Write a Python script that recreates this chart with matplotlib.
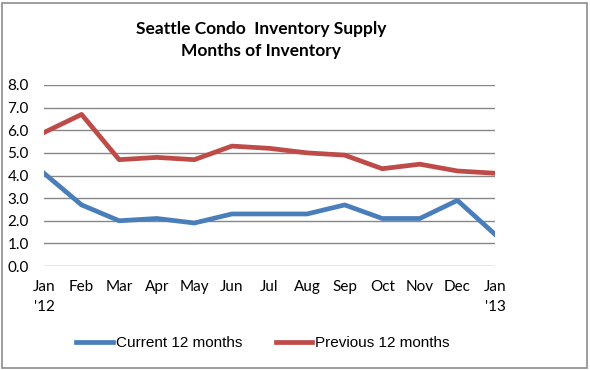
import matplotlib.pyplot as plt
from matplotlib.patches import Rectangle

months = ["Jan\n'12", "Feb", "Mar", "Apr", "May", "Jun", "Jul", "Aug",
          "Sep", "Oct", "Nov", "Dec", "Jan\n'13"]
current = [4.1, 2.7, 2.0, 2.1, 1.9, 2.3, 2.3, 2.3, 2.7, 2.1, 2.1, 2.9, 1.4]
previous = [5.9, 6.7, 4.7, 4.8, 4.7, 5.3, 5.2, 5.0, 4.9, 4.3, 4.5, 4.2, 4.1]
yticks = [0, 1, 2, 3, 4, 5, 6, 7, 8]

fig = plt.figure(figsize=(5.9, 3.7), dpi=100)
ax = fig.add_axes([44 / 590, 1 - 266 / 370, (495 - 44) / 590, (266 - 85) / 370])

x = list(range(len(months)))
ax.plot(x, current, color="#4A7EBB", lw=3.4, label="Current 12 months",
        solid_joinstyle="round")
ax.plot(x, previous, color="#BE4B48", lw=3.4, label="Previous 12 months",
        solid_joinstyle="round")

ax.set_xlim(0, 12)
ax.set_ylim(0, 8)
ax.set_yticks(yticks)
ax.set_yticklabels([f"{v:.1f}" for v in yticks], family="Lato", fontsize=11)
ax.set_xticks(x)
ax.set_xticklabels(months, family="Lato", fontsize=11, linespacing=1.55)
ax.tick_params(length=0)
ax.tick_params(axis="x", pad=10)
ax.tick_params(axis="y", pad=11)
ax.grid(axis="y", color="#878787", lw=1)
ax.set_axisbelow(True)
for s in ax.spines.values():
    s.set_visible(False)

fig.text(261 / 590, 1 - 40 / 370, "Seattle Condo  Inventory Supply\nMonths of Inventory",
         ha="center", va="center", fontsize=12.5, fontweight="bold",
         family="Lato", linespacing=1.5)

ax.legend(loc="center", bbox_to_anchor=(0.5 * (88 + 438) / 590, 1 - 343 / 370),
          bbox_transform=fig.transFigure, ncol=2, frameon=False,
          prop={"family": "Liberation Sans", "size": 11},
          handlelength=2.4, handletextpad=0.2, columnspacing=2.2)

fig.patches.append(Rectangle((2 / 590, 2 / 370), 585 / 590, 365 / 370,
                             transform=fig.transFigure, fill=False,
                             edgecolor="#8c8c8c", lw=1.2))

fig.savefig("out.png", dpi=100)
